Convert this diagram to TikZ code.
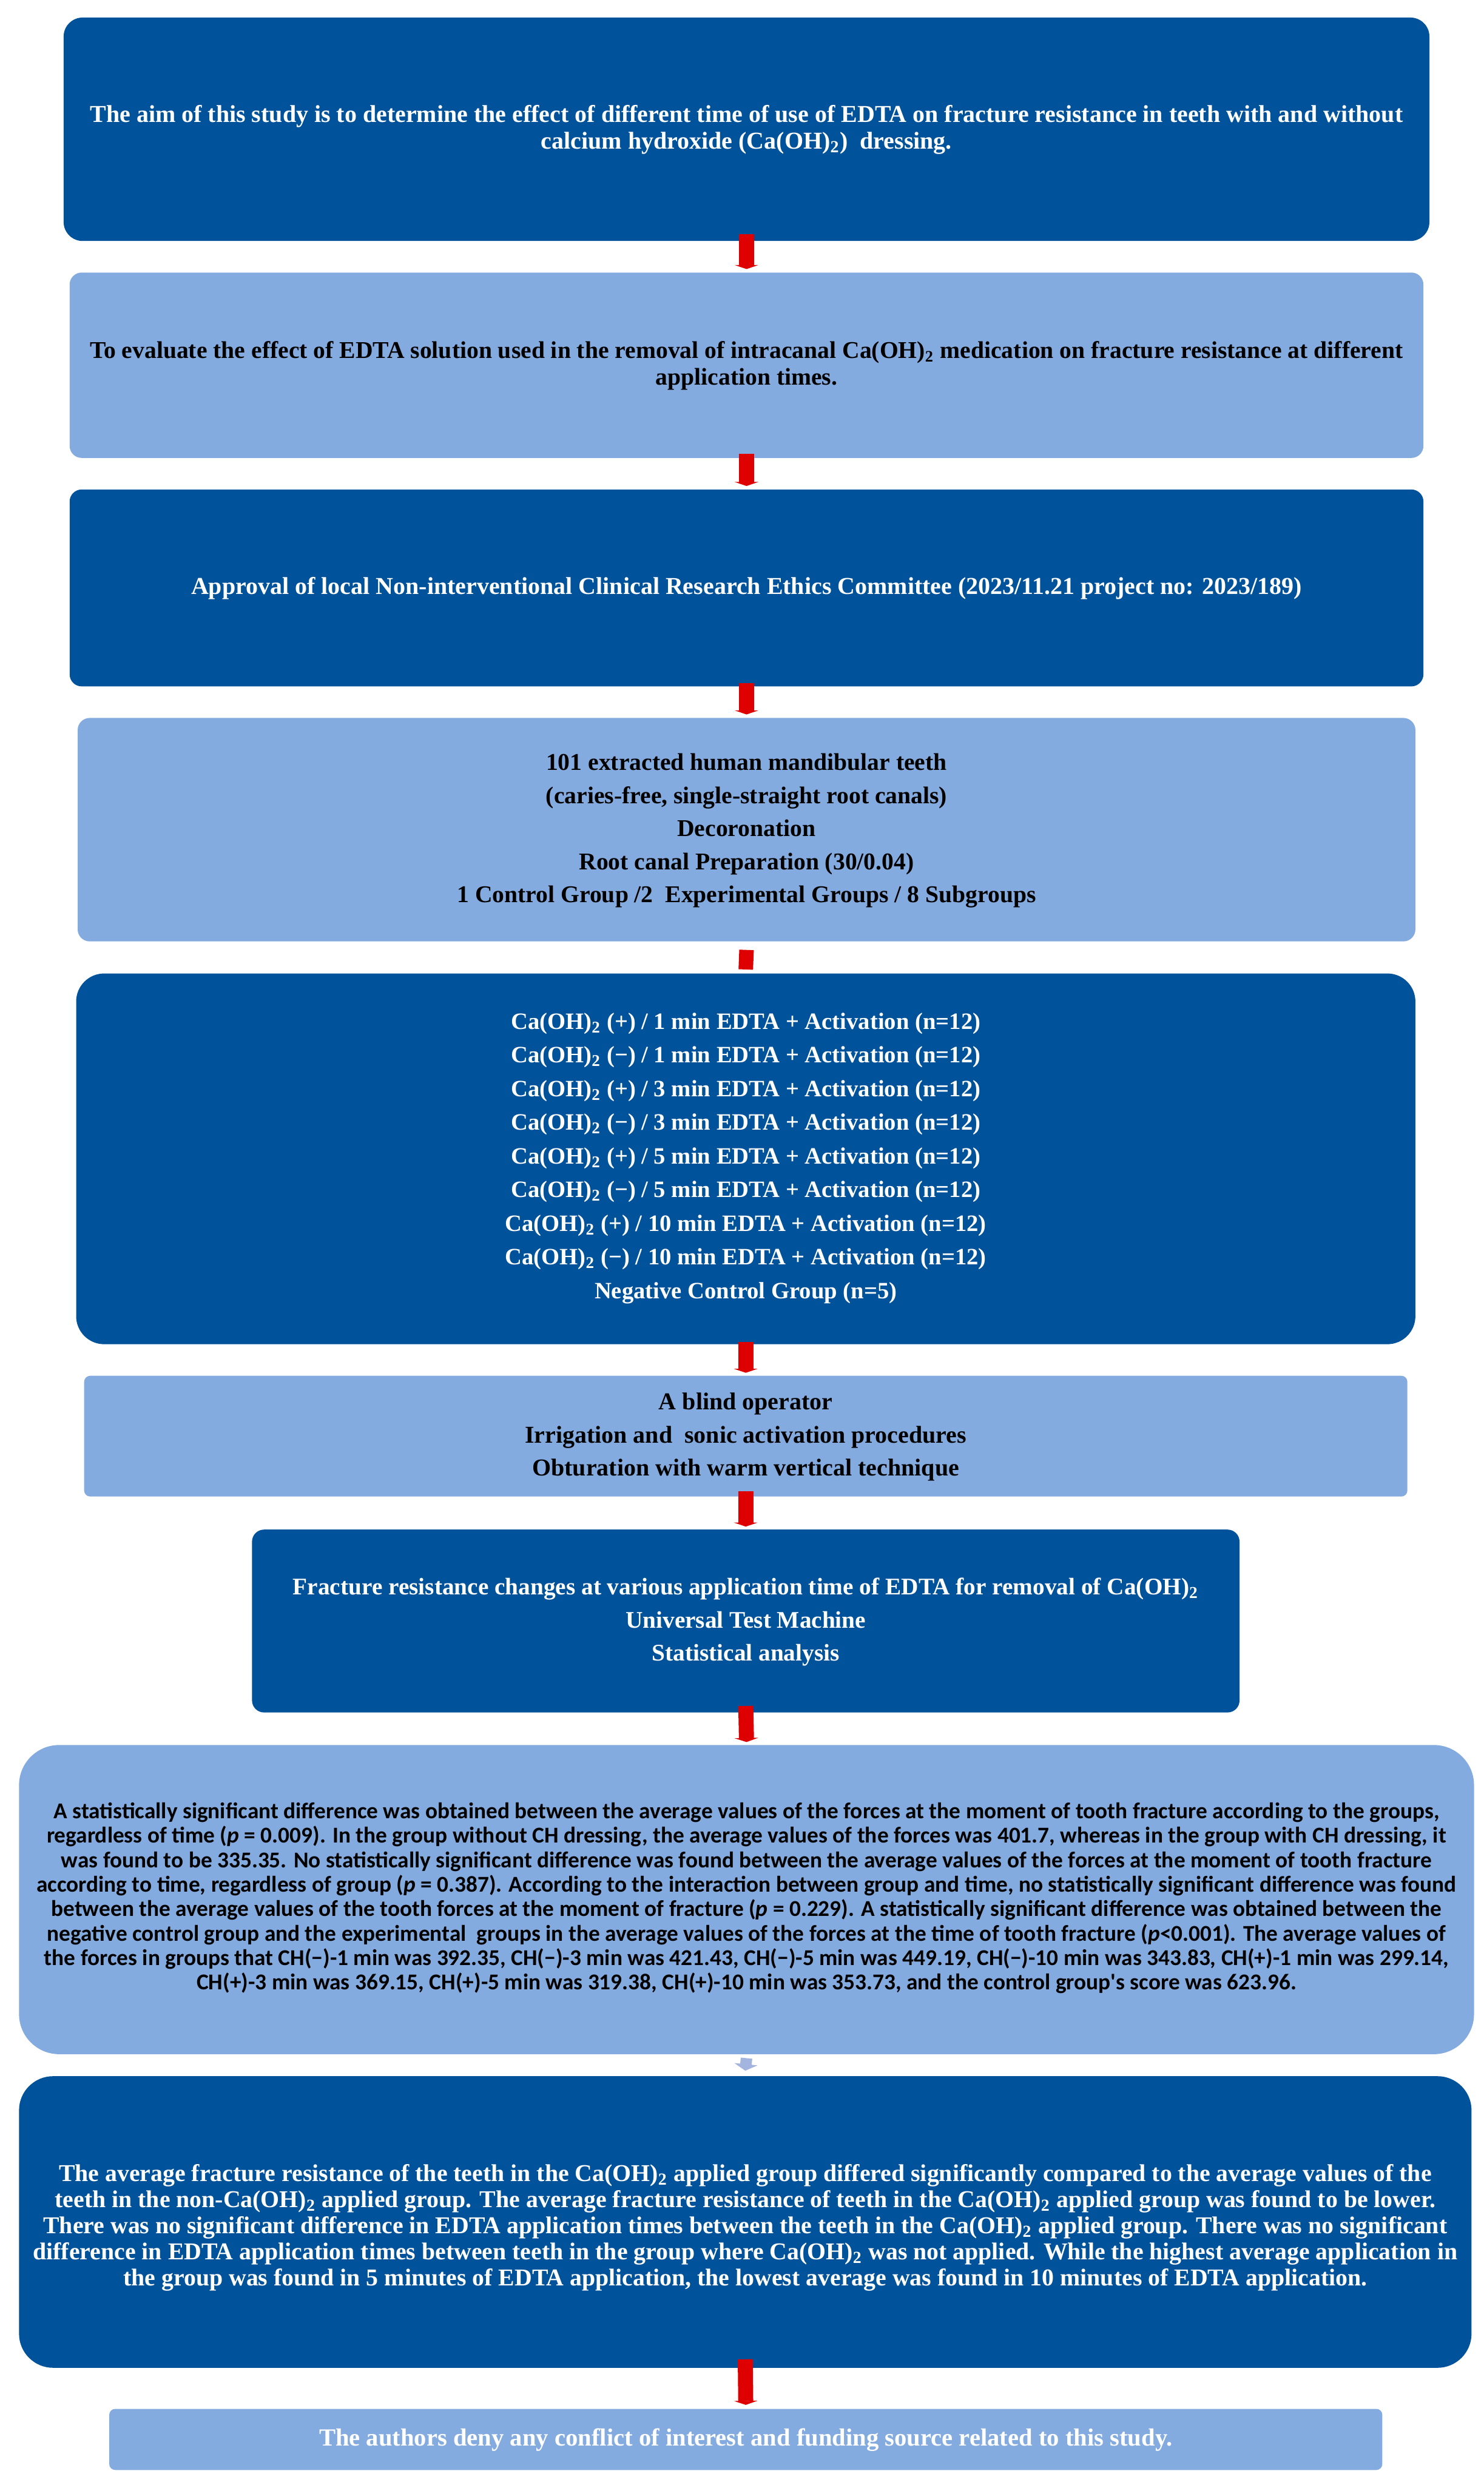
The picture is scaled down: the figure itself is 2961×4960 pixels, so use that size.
\documentclass[tikz,border=0pt]{standalone}
\usepackage{fontspec}
\setmainfont{Liberation Serif}
\newfontfamily\calib{Carlito}
\usetikzlibrary{fit,arrows.meta,calc}
\definecolor{dblue}{RGB}{0,83,155}
\definecolor{lblue}{RGB}{132,171,223}
\definecolor{arrred}{RGB}{222,0,0}
\definecolor{arrlight}{RGB}{163,181,222}
\newcommand{\caoh}{Ca(OH)\textsubscript{2}}
\begin{document}
\begin{tikzpicture}[x=0.25pt,y=-0.25pt,
  box/.style={inner sep=0pt, outer sep=0pt},
  darkbox/.style={box, fill=dblue},
  lightbox/.style={box, fill=lblue},
  txtw/.style={inner sep=0pt, align=center, text=white},
  txtk/.style={inner sep=0pt, align=center, text=black},
  ftA/.style={font=\bfseries\fontsize{12.1}{13.25}\selectfont},
  ftB/.style={font=\bfseries\fontsize{11.9}{16.5}\selectfont},
  ftC/.style={font=\calib\bfseries\fontsize{11.3}{12.2}\selectfont},
  redarr/.style={draw=arrred, line width=7.5pt, -{Triangle[width=11.75pt,length=2pt]}},
  redbar/.style={draw=arrred, line width=7.25pt},
  lightarr/.style={draw=arrlight, line width=5.75pt, -{Triangle[width=11.5pt,length=3.25pt]}}]
\fill[white] (0,0) rectangle (2961,4960);
\useasboundingbox (0,0) rectangle (2961,4960);

% boxes
\node[darkbox, rounded corners=9.5pt, fit={(127,35) (2853,481)}] (b1) {};
\node[lightbox, rounded corners=6pt, fit={(139,544) (2841,914)}] (b2) {};
\node[darkbox, rounded corners=6pt, fit={(139,977) (2841,1370)}] (b3) {};
\node[lightbox, rounded corners=6pt, fit={(155,1433) (2825,1879)}] (b4) {};
\node[darkbox, rounded corners=14pt, fit={(152,1943) (2825,2683)}] (b5) {};
\node[lightbox, rounded corners=3pt, fit={(168,2746) (2809,2987)}] (b6) {};
\node[darkbox, rounded corners=6pt, fit={(503,3053) (2474,3418)}] (b7) {};
\node[lightbox, rounded corners=20pt, fit={(38,3483) (2942,4100)}] (b8) {};
\node[darkbox, rounded corners=17pt, fit={(38,4144) (2937,4726)}] (b9) {};
\node[lightbox, rounded corners=3pt, fit={(218,4808) (2759,4930)}] (b10) {};

% texts
\node[txtw, ftA] (t1) at ($(b1.center)+(0,1)$)
 {The aim of this study is to determine the effect of different time of use of EDTA on fracture resistance in teeth with and without\\
  calcium hydroxide (\caoh)\ \ dressing.};

\node[txtk, font=\bfseries\fontsize{12}{13.25}\selectfont] (t2) at ($(b2.center)+(0,1)$)
 {To evaluate the effect of EDTA solution used in the removal of intracanal \caoh{} medication on fracture resistance at different\\
  application times.};

\node[txtw, ftA] (t3) at ($(b3.center)+(0,1)$)
 {Approval of local Non-interventional Clinical Research Ethics Committee (2023/11.21 project no: 2023/189)};

\node[txtk, font=\bfseries\fontsize{12}{16.5}\selectfont] (t4) at ($(b4.center)+(0,2)$)
 {101 extracted human mandibular teeth\\
  (caries-free, single-straight root canals)\\
  Decoronation\\
  Root canal Preparation (30/0.04)\\
  1 Control Group /2\ \ Experimental Groups / 8 Subgroups};

\node[txtw, font=\bfseries\fontsize{11.7}{16.8}\selectfont] (t5) at ($(b5.center)+(0,-1)$)
 {\caoh{} (+) / 1 min EDTA + Activation (n=12)\\
  \caoh{} (−) / 1 min EDTA + Activation (n=12)\\
  \caoh{} (+) / 3 min EDTA + Activation (n=12)\\
  \caoh{} (−) / 3 min EDTA + Activation (n=12)\\
  \caoh{} (+) / 5 min EDTA + Activation (n=12)\\
  \caoh{} (−) / 5 min EDTA + Activation (n=12)\\
  \caoh{} (+) / 10 min EDTA + Activation (n=12)\\
  \caoh{} (−) / 10 min EDTA + Activation (n=12)\\
  Negative Control Group (n=5)};

\node[txtk, font=\bfseries\fontsize{12.1}{16.5}\selectfont] (t6) at ($(b6.center)+(0,2)$)
 {A blind operator\\
  Irrigation and\ \ sonic activation procedures\\
  Obturation with warm vertical technique};

\node[txtw, ftB] (t7) at ($(b7.center)+(0,2)$)
 {Fracture resistance changes at various application time of EDTA for removal of \caoh\\
  Universal Test Machine\\
  Statistical analysis};

\node[txtk, ftC] (t8) at ($(b8.center)+(0,-3)$)
 {A statistically significant difference was obtained between the average values of the forces at the moment of tooth fracture according to the groups,\\
  regardless of time (\textit{p} = 0.009). In the group without CH dressing, the average values of the forces was 401.7, whereas in the group with CH dressing, it\\
  was found to be 335.35. No statistically significant difference was found between the average values of the forces at the moment of tooth fracture\\
  according to time, regardless of group (\textit{p} = 0.387). According to the interaction between group and time, no statistically significant difference was found\\
  between the average values of the tooth forces at the moment of fracture (\textit{p} = 0.229). A statistically significant difference was obtained between the\\
  negative control group and the experimental\ \ groups in the average values of the forces at the time of tooth fracture (\textit{p}<0.001). The average values of\\
  the forces in groups that CH(−)-1 min was 392.35, CH(−)-3 min was 421.43, CH(−)-5 min was 449.19, CH(−)-10 min was 343.83, CH(+)-1 min was 299.14,\\
  CH(+)-3 min was 369.15, CH(+)-5 min was 319.38, CH(+)-10 min was 353.73, and the control group's score was 623.96.};

\node[txtw, font=\bfseries\fontsize{12.05}{13}\selectfont] (t9) at ($(b9.center)+(0,11)$)
 {The average fracture resistance of the teeth in the \caoh{} applied group differed significantly compared to the average values of the\\
  teeth in the non-\caoh{} applied group. The average fracture resistance of teeth in the \caoh{} applied group was found to be lower.\\
  There was no significant difference in EDTA application times between the teeth in the \caoh{} applied group. There was no significant\\
  difference in EDTA application times between teeth in the group where \caoh{} was not applied. While the highest average application in\\
  the group was found in 5 minutes of EDTA application, the lowest average was found in 10 minutes of EDTA application.};

\node[txtw, font=\bfseries\fontsize{12.3}{14}\selectfont] (t10) at ($(b10.center)+(0,1)$)
 {The authors deny any conflict of interest and funding source related to this study.};

% connectors
\draw[redarr] ($(b1.south)+(0,-13)$) -- ($(b2.north)+(0,-7)$);
\draw[redarr] ($(b2.south)+(0,-8)$) -- ($(b3.north)+(0,-7)$);
\draw[redarr] ($(b3.south)+(0,-7)$) -- ($(b4.north)+(0,-7)$);
\draw[redbar] ($(b4.south)+(0,17)$) -- ($(b5.north)+(0,-8)$);
\draw[redarr] ($(b5.south)+(0,-5)$) -- ($(b6.north)+(0,-6)$);
\draw[redarr] ($(b6.south)+(0,-10)$) -- ($(b7.north)+(0,-6)$);
\draw[redarr] ($(b7.south)+(0,-13)$) -- ($(b8.north)+(0,-6)$);
\draw[lightarr] ($(b8.south)+(0,8)$) -- ($(b9.north)+(0,-11)$);
\draw[redarr] ($(b9.south)+(0,-17)$) -- ($(b10.north)+(0,-8)$);
\end{tikzpicture}
\end{document}
